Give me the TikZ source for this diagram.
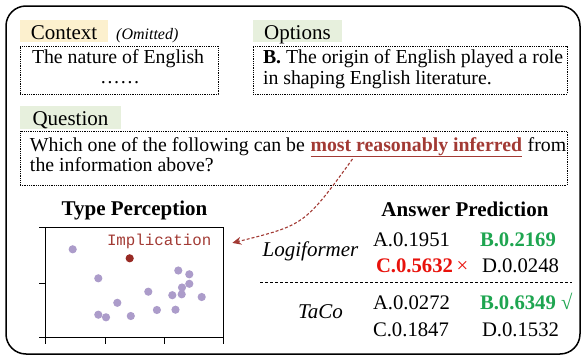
\documentclass[tikz,border=0pt]{standalone}
\usepackage{fontspec}
\setmainfont{Liberation Serif}
\setmonofont{Liberation Mono}
\usetikzlibrary{calc,arrows.meta}
\definecolor{ctxbg}{RGB}{252,240,206}
\definecolor{grnbg}{RGB}{231,240,221}
\definecolor{emph}{RGB}{162,58,52}
\definecolor{impdot}{RGB}{152,42,36}
\definecolor{pdot}{RGB}{172,156,202}
\definecolor{okgreen}{RGB}{30,165,80}
\definecolor{bad}{RGB}{232,18,12}
\begin{document}
\begin{tikzpicture}[x=1pt,y=-1pt,
  txt/.style={inner sep=0pt, outer sep=0pt, font=\fontsize{19.8}{23}\selectfont, anchor=base west},
  lblbox/.style={inner sep=0pt, outer sep=0pt, anchor=north west, font=\fontsize{21}{24}\selectfont,
     text height=17.5pt, text depth=1pt, minimum height=22pt},
  dbox/.style={draw, densely dotted, line width=0.8pt, inner sep=0pt, outer sep=0pt, anchor=north west},
  title/.style={inner sep=0pt, outer sep=0pt, anchor=base, font=\fontsize{21}{24}\selectfont\bfseries},
  ans/.style={inner sep=0pt, outer sep=0pt, anchor=base west, font=\fontsize{20.7}{24}\selectfont},
  model/.style={inner sep=0pt, outer sep=0pt, anchor=base west, font=\fontsize{21}{24}\selectfont\itshape},
  pt/.style={fill=pdot},
  axis/.style={line width=0.8pt},
]
\useasboundingbox (0,0) rectangle (582,356);
% outer frame
\draw[line width=1.5pt, rounded corners=20pt] (6,6) rectangle (580,354);

% Context
\node[lblbox, fill=ctxbg, minimum width=88pt] (ctxl) at (20,20) {Context};
\node[inner sep=0pt, anchor=base west, font=\fontsize{16}{18}\selectfont\itshape] (omit) at (116,39.3) {(Omitted)};
\node[dbox, minimum width=198pt, minimum height=48pt] (ctxb) at (20,46) {};
\node[txt] (ctx1) at (32,63.3) {The nature of English};
\node[txt, anchor=base] (ctx2) at (120,83) {……};

% Options
\node[lblbox, fill=grnbg, minimum width=89pt] (optl) at (253,20) {Options};
\node[dbox, minimum width=314pt, minimum height=48pt] (optb) at (253,46) {};
\node[txt] (opt1) at (263,63.3) {\textbf{B.} The origin of English played a role};
\node[txt] (opt2) at (263,84) {in shaping English literature.};

% Question
\node[lblbox, fill=grnbg, minimum width=101pt, minimum height=23pt] (ql) at (20,106) {Question};
\node[dbox, minimum width=547pt, minimum height=54pt] (qb) at (20,131) {};
\node[txt] (q1a) at (30,151) {Which one of the following can be};
\node[txt, text=emph] (q1b) at ([xshift=5.6pt]q1a.base east) {\underline{\textbf{most reasonably inferred}}};
\node[txt] (q1c) at ([xshift=5.6pt]q1b.base east) {from};
\node[txt] (q2) at (30,171) {the information above?};

% Type perception plot
\node[title] (tp) at (134.5,215) {Type Perception};
\draw[axis] (45,227) rectangle (223,337);
\foreach \yy in {227,283,337} \draw[axis] (39,\yy) -- (45,\yy);
\foreach \xx in {45,105,164,223} \draw[axis] (\xx,337) -- (\xx,344);
\foreach \px/\py in {72.7/249.3, 98.3/278.3, 178.3/270.5, 189.3/274.3, 189.3/283.8, 182/287.5,
  148.3/291.7, 172.3/295.2, 181.7/294.3, 201.7/297, 117.3/302.8, 156.9/310, 175.5/309.7,
  98.3/314.7, 106/317.3, 130.8/316} \fill[pt] (\px,\py) circle (4.1pt);
\fill[impdot] (129.7,258.3) circle (4.1pt);
\node[inner sep=0pt, outer sep=0pt, anchor=base west, text=emph, font=\fontsize{15.8}{18}\selectfont\ttfamily] (impl) at (107,245) {Implication};

% Answer prediction
\node[title] (ap) at (465,216) {Answer Prediction};
\node[model] (lf) at (262.7,256.7) {Logiformer};
\node[ans] (a1) at (373,246) {A.0.1951};
\node[ans, text=okgreen] (b1) at (480,246) {\textbf{B.0.2169}};
\node[ans, text=bad] (c1) at (376,272.3) {\textbf{C.0.5632}\,×};
\node[ans] (d1) at (482,272.3) {D.0.0248};
\draw[densely dashed, line width=0.8pt] (260,282) -- (572,282);
\node[model] (tc) at (298,318) {TaCo};
\node[ans] (a2) at (373,309) {A.0.0272};
\node[ans, text=okgreen] (b2) at (480,309) {\textbf{B.0.6349} √};
\node[ans] (c2) at (373,336.7) {C.0.1847};
\node[ans] (d2) at (482,336.7) {D.0.1532};

% arrow
\draw[emph, densely dashed, line width=1.1pt, -{Stealth[length=9pt,width=8pt]}]
  ($(q1b.base west)+(42,8)$) .. controls ($(q1b.base west)+(-6,74)$) .. ($(impl.east)+(21,2)$);
\end{tikzpicture}
\end{document}
